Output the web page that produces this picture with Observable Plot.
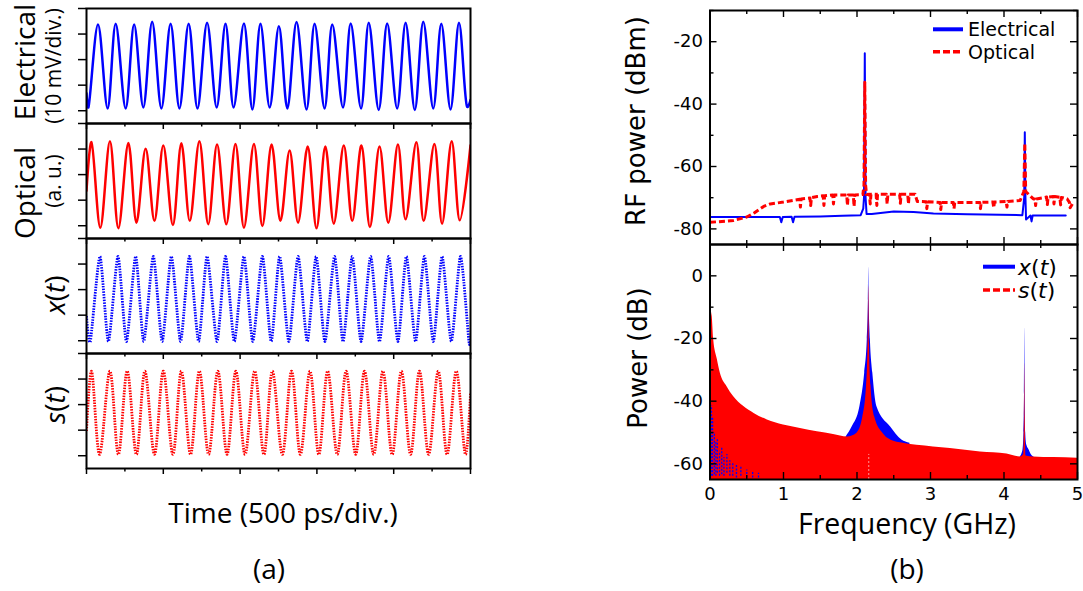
<!DOCTYPE html>
<html>
<head>
<meta charset="utf-8">
<script src="https://cdn.jsdelivr.net/npm/d3@7"></script>
<script src="https://cdn.jsdelivr.net/npm/@observablehq/plot@0.6"></script>
<style>
  body { margin: 0; background: #fff; }
  #fig { position: relative; width: 1083px; height: 591px; overflow: hidden; background: #fff; }
  #fig svg { position: absolute; left: 0; top: 0; overflow: visible; background: transparent; }
</style>
</head>
<body>
<div id="fig"></div>
<script>
// ================= DATA =================
// (a) time traces, time in divisions (500 ps/div), amplitude in divisions
const elecT = [0, 0.05, 0.30, 0.55, 0.76, 1.02, 1.24, 1.48, 1.71, 1.95, 2.19, 2.42, 2.66, 2.89, 3.14, 3.39, 3.62, 3.83, 4.10, 4.32, 4.53, 4.77, 5.01, 5.23, 5.47, 5.73, 5.94, 6.20, 6.40, 6.68, 6.88, 7.15, 7.35, 7.61, 7.83, 8.09, 8.31, 8.55, 8.77, 9.03, 9.24, 9.48, 9.70, 9.91, 10];
const elecV = [0.68, 0.13, 3.37, 0.09, 3.40, 0.09, 3.37, 0.13, 3.48, 0.09, 3.40, 0.09, 3.40, 0.09, 3.44, 0.13, 3.40, 0.13, 3.41, 0.05, 3.40, 0.13, 3.31, 0.09, 3.47, 0.05, 3.40, 0.09, 3.37, 0.13, 3.41, 0.09, 3.44, 0.03, 3.41, 0.09, 3.44, 0.03, 3.48, 0.09, 3.40, 0.05, 3.44, 0.16, 0.42];

const optT = [0, 0.13, 0.36, 0.61, 0.83, 1.09, 1.30, 1.54, 1.77, 2.00, 2.25, 2.47, 2.69, 2.94, 3.17, 3.40, 3.64, 3.88, 4.10, 4.36, 4.58, 4.82, 5.05, 5.29, 5.51, 5.76, 5.99, 6.22, 6.44, 6.70, 6.92, 7.16, 7.38, 7.63, 7.86, 8.11, 8.31, 8.59, 8.78, 9.06, 9.26, 9.51, 9.72, 10];
const optV = [1.37, 3.27, -0.08, 3.31, -0.10, 3.24, 0.12, 3.01, 0.19, 3.14, 0.03, 3.23, 0.19, 3.31, 0.06, 3.18, 0.06, 3.20, -0.08, 3.20, -0.01, 3.18, 0.19, 2.94, 0.12, 3.10, -0.10, 3.10, 0.08, 3.14, 0.19, 3.14, -0.05, 3.10, 0.12, 3.18, 0.25, 3.27, 0.19, 3.20, 0.08, 3.31, 0.21, 3.14];

const xtT = [0, 0.10, 0.35, 0.57, 0.82, 1.04, 1.28, 1.49, 1.74, 1.97, 2.21, 2.45, 2.68, 2.92, 3.14, 3.40, 3.62, 3.85, 4.10, 4.33, 4.58, 4.81, 5.03, 5.27, 5.51, 5.75, 5.98, 6.21, 6.46, 6.68, 6.92, 7.15, 7.40, 7.63, 7.87, 8.11, 8.33, 8.57, 8.80, 9.03, 9.26, 9.50, 9.74, 9.96, 10];
const xtV = [0.96, -0.03, 3.30, -0.03, 3.30, -0.03, 3.30, -0.03, 3.30, -0.03, 3.30, -0.03, 3.30, -0.03, 3.30, -0.03, 3.30, -0.03, 3.30, -0.03, 3.30, -0.03, 3.30, -0.03, 3.30, -0.03, 3.30, -0.03, 3.30, -0.03, 3.30, -0.03, 3.30, -0.03, 3.30, -0.03, 3.30, -0.03, 3.30, -0.03, 3.30, -0.03, 3.30, -0.03, 0.12];

const stT = [0, 0.13, 0.34, 0.61, 0.83, 1.06, 1.30, 1.52, 1.77, 2.00, 2.25, 2.47, 2.71, 2.94, 3.18, 3.42, 3.66, 3.89, 4.13, 4.38, 4.62, 4.84, 5.10, 5.34, 5.57, 5.82, 6.05, 6.28, 6.53, 6.76, 7.01, 7.24, 7.48, 7.72, 7.96, 8.20, 8.44, 8.67, 8.91, 9.16, 9.39, 9.63, 9.87, 10];
const stV = [0.97, 3.31, 0.05, 3.31, 0.05, 3.31, 0.05, 3.31, 0.05, 3.31, 0.05, 3.31, 0.05, 3.31, 0.05, 3.31, 0.05, 3.31, 0.05, 3.31, 0.05, 3.31, 0.05, 3.31, 0.05, 3.31, 0.05, 3.31, 0.05, 3.31, 0.05, 3.31, 0.05, 3.31, 0.05, 3.31, 0.05, 3.31, 0.05, 3.31, 0.05, 3.31, 0.05, 2.43];

const divTicksY = [0, 1, 2, 3, 4];
const divMajorX = [0, 2, 4, 6, 8, 10];
const divMinorX = [1, 3, 5, 7, 9];

// (b) top: measured RF spectra (GHz, dBm)
const rfElecF = [0, 0.95, 0.97, 0.99, 1.11, 1.13, 1.15, 1.5, 1.8, 2.05, 2.085, 2.095, 2.106, 2.117, 2.13, 2.2, 2.5, 2.77, 3.04, 3.5, 3.95, 4.25, 4.275, 4.283, 4.292, 4.30, 4.36, 4.375, 4.39, 4.6, 4.84];
const rfElecP = [-76.2, -76.2, -77.9, -76.2, -76.1, -77.9, -76.1, -76.0, -75.8, -75.6, -73.5, -70, -23.7, -70, -75.2, -75.2, -74.4, -74.6, -75.1, -75.3, -75.5, -75.6, -70, -49, -70, -77, -75.7, -77.6, -75.7, -75.7, -75.7];

const rfOptF = [0, 0.32, 0.5, 0.6, 0.73, 0.82, 1.0, 1.22, 1.23, 1.24, 1.36, 1.37, 1.38, 1.46, 1.54, 1.55, 1.56, 1.67, 1.68, 1.69, 1.86, 1.87, 1.88, 1.95, 1.96, 1.97, 2.08, 2.095, 2.106, 2.117, 2.13, 2.17, 2.18, 2.19, 2.26, 2.27, 2.28, 2.40, 2.41, 2.42, 2.58, 2.59, 2.60, 2.69, 2.70, 2.71, 2.79, 2.82, 2.94, 2.95, 2.96, 3.13, 3.14, 3.15, 3.31, 3.32, 3.33, 3.67, 3.68, 3.69, 3.85, 3.86, 3.87, 4.03, 4.04, 4.05, 4.22, 4.27, 4.283, 4.295, 4.4, 4.42, 4.43, 4.44, 4.58, 4.59, 4.60, 4.67, 4.68, 4.69, 4.76, 4.77, 4.78, 4.86, 4.89, 4.90, 4.93];
const rfOptP = [-77.9, -77.3, -76.2, -74.9, -72.8, -72.0, -71.4, -70.5, -73, -70.4, -70.1, -72.5, -70, -69.6, -69.4, -72.5, -69.4, -69.1, -72, -69.1, -69.1, -72.5, -69.1, -69.1, -72.8, -69.1, -69, -66, -33, -66, -69, -68.9, -72, -68.9, -68.9, -72.5, -68.9, -68.9, -72, -68.9, -68.9, -71.8, -68.9, -68.9, -72, -68.9, -68.9, -71.2, -71.3, -73.5, -71.3, -71.5, -73.8, -71.5, -71.5, -73.5, -71.5, -71.5, -73.5, -71.5, -71.4, -73.2, -71.4, -71.2, -73, -71.2, -70.9, -68, -52.5, -68, -70.4, -70.4, -72.5, -70.4, -69.8, -72.2, -69.8, -69.6, -72, -69.6, -69.9, -72.3, -69.9, -70.4, -71.5, -73.2, -72];

// (b) bottom: simulated spectra (GHz, dB) — upper envelopes of the dense traces
const sEnvF = [0, 0.03, 0.05, 0.1, 0.14, 0.23, 0.32, 0.46, 0.6, 0.78, 1.0, 1.23, 1.46, 1.68, 1.87, 2.0, 2.08, 2.13, 2.15, 2.16, 2.17, 2.19, 2.24, 2.36, 2.5, 2.59, 3.04, 3.27, 3.68, 4.04, 4.22, 4.27, 4.278, 4.283, 4.288, 4.3, 4.4, 4.68, 5];
const sEnvP = [-10, -13, -20.3, -26.7, -31, -35.3, -38.5, -41.7, -43.9, -46, -47.6, -48.7, -49.8, -50.6, -51.4, -50.2, -45, -35, -22, -3.2, -22, -35, -45, -50.5, -52.8, -53.3, -54.6, -55.1, -56.2, -56.9, -57.8, -57, -45, -27.8, -45, -57.5, -57.8, -58, -58.2];

const xEnvF = [1.85, 1.935, 2.04, 2.105, 2.14, 2.155, 2.16, 2.165, 2.182, 2.215, 2.27, 2.455, 2.61, 2.72, 3.5, 4.22, 4.255, 4.272, 4.279, 4.283, 4.287, 4.295, 4.31, 4.34, 4.37, 4.42];
const xEnvP = [-51.5, -48.2, -41.7, -31, -20.3, -8, 2.7, -8, -20.3, -31, -41.7, -48.2, -52.4, -53.4, NaN, -57.8, -56, -50, -38, -16.6, -38, -50, -54, -55.5, -57, -58];

// visible blue streaks of x(t) through the red band at low frequency
const xStreakF  = [0.02, 0.035, 0.06, 0.08, 0.1, 0.13, 0.16, 0.19, 0.23, 0.27, 0.31, 0.36, 0.42, 0.5, 0.58, 0.66];
const xStreakLo = [-64, -64, -63.5, -64, -63, -64, -63.5, -64, -63, -64, -64, -64.5, -64, -64.5, -64.5, -64.5];
const xStreakHi = [-41.5, -45, -50, -53, -52, -56, -55, -58, -57, -59, -60, -60.5, -61, -62, -62.5, -63];

const freqMajor = [0, 1, 2, 3, 4, 5];
const freqMinor = [0.5, 1.5, 2.5, 3.5, 4.5];
const rfMajor = [-80, -60, -40, -20];
const rfMinor = [-70, -50, -30, -10];
const pwMajor = [-60, -40, -20, 0];
const pwMinor = [-50, -30, -10];

// ================= DRAWING =================
const fig = document.getElementById("fig");
const BLUE = "#0000ff", RED = "#ff0000";

function timePanel(t, v, top, color, dash, curve) {
  const data = t.map((d, i) => ({t: d, v: v[i]}));
  const p = Plot.plot({
    width: 1083, height: top + 115,
    marginTop: top, marginBottom: 0, marginLeft: 86, marginRight: 1083 - 470,
    x: {domain: [0, 10], axis: null},
    y: {domain: [-0.5, 4], axis: null},
    marks: [
      Plot.line(data, {x: "t", y: "v", stroke: color, strokeWidth: dash ? 2.8 : 2.5,
        strokeDasharray: dash, strokeLinecap: dash ? "butt" : "round",
        curve: curve || "catmull-rom", tension: 0.35, clip: true}),
      Plot.axisY({ticks: divTicksY, tickSize: 8, tickFormat: () => "", label: null, strokeWidth: 1.5}),
      Plot.axisX({ticks: divMajorX, tickSize: 6, tickFormat: () => "", label: null, strokeWidth: 1.5}),
      Plot.axisX({ticks: divMinorX, tickSize: 3.5, tickFormat: () => "", label: null, strokeWidth: 1.5}),
      Plot.frame({strokeWidth: 2})
    ]
  });
  fig.append(p);
}

timePanel(elecT, elecV, 8, BLUE, null);
timePanel(optT, optV, 123, RED, null);
timePanel(xtT, xtV, 238, BLUE, "1.5,1.2", "cardinal");
timePanel(stT, stV, 353, RED, "1.5,1.2");

const RX0 = 709.5, RX1 = 1077;
const FW = RX1 - RX0;
function boxTicks(yMaj, yMin, H) {
  const L = 7, l = 4, sw = 1.4;
  return [
    Plot.tickY(yMaj, {y: d => d, insetRight: FW - L, strokeWidth: sw}),
    Plot.tickY(yMaj, {y: d => d, insetLeft: FW - L, strokeWidth: sw}),
    Plot.tickY(yMin, {y: d => d, insetRight: FW - l, strokeWidth: sw}),
    Plot.tickY(yMin, {y: d => d, insetLeft: FW - l, strokeWidth: sw}),
    Plot.tickX(freqMajor, {x: d => d, insetBottom: H - L, strokeWidth: sw}),
    Plot.tickX(freqMajor, {x: d => d, insetTop: H - L, strokeWidth: sw}),
    Plot.tickX(freqMinor, {x: d => d, insetBottom: H - l, strokeWidth: sw}),
    Plot.tickX(freqMinor, {x: d => d, insetTop: H - l, strokeWidth: sw})
  ];
}

// top right: RF spectra
{
  const top = 10, H = 234;
  const elec = rfElecF.map((f, i) => ({f, p: rfElecP[i]}));
  const opt = rfOptF.map((f, i) => ({f, p: rfOptP[i]}));
  const p = Plot.plot({
    width: 1083, height: top + H,
    marginTop: top, marginBottom: 0, marginLeft: RX0, marginRight: 1083 - RX1,
    style: {fontFamily: "'DejaVu Sans', sans-serif", fontSize: "18px"},
    x: {domain: [0, 5], axis: null},
    y: {domain: [-85, -10], axis: null},
    marks: [
      Plot.line(elec, {x: "f", y: "p", stroke: BLUE, strokeWidth: 2, clip: true}),
      Plot.line(opt, {x: "f", y: "p", stroke: RED, strokeWidth: 3, strokeDasharray: "6,3", strokeLinecap: "butt", clip: true}),
      ...boxTicks(rfMajor, rfMinor, H),
      Plot.axisY({ticks: rfMajor, tickSize: 0, tickPadding: 7, tickFormat: d => String(d), label: null, fontSize: 18}),
      Plot.frame({strokeWidth: 2})
    ]
  });
  fig.append(p);
}

// bottom right: simulated spectra
{
  const top = 244, H = 235;
  const sEnv = sEnvF.map((f, i) => ({f, p: sEnvP[i]}));
  const xEnv = xEnvF.map((f, i) => ({f, p: xEnvP[i]}));
  const streaks = xStreakF.map((f, i) => ({f, lo: xStreakLo[i], hi: xStreakHi[i]}));
  const p = Plot.plot({
    width: 1083, height: top + H,
    marginTop: top, marginBottom: 0, marginLeft: RX0, marginRight: 1083 - RX1,
    style: {fontFamily: "'DejaVu Sans', sans-serif", fontSize: "18px"},
    x: {domain: [0, 5], axis: null},
    y: {domain: [-65, 10], axis: null},
    marks: [
      Plot.areaY(xEnv, {x: "f", y1: -65, y2: "p", fill: BLUE, curve: "monotone-x", clip: true}),
      Plot.areaY(sEnv, {x: "f", y1: -65, y2: "p", fill: RED, curve: "monotone-x", clip: true}),
      Plot.ruleX(streaks, {x: "f", y1: "lo", y2: "hi", stroke: BLUE, strokeWidth: 1.3, strokeDasharray: "2,1.5", clip: true}),
      Plot.ruleX([2.16], {y1: -65, y2: -57, stroke: "white", strokeOpacity: 0.6, strokeWidth: 1, strokeDasharray: "2,2", clip: true}),
      ...boxTicks(pwMajor, pwMinor, H),
      Plot.axisY({ticks: pwMajor, tickSize: 0, tickPadding: 7, tickFormat: d => String(d), label: null, fontSize: 18}),
      Plot.axisX({ticks: freqMajor, tickSize: 0, tickPadding: 8, tickFormat: d => String(d), label: null, fontSize: 18}),
      Plot.frame({strokeWidth: 2})
    ]
  });
  fig.append(p);
}

// ================= TEXT & LEGENDS =================
const ov = d3.select(fig).append("svg").attr("width", 1083).attr("height", 591);
const OPEN = "'Open Sans', sans-serif", DEJA = "'DejaVu Sans', sans-serif";

function label(x, y, s, size, family, rotate) {
  return ov.append("text")
    .attr("transform", `translate(${x},${y})` + (rotate ? " rotate(-90)" : ""))
    .attr("text-anchor", "middle")
    .attr("font-family", family).attr("font-size", size).attr("fill", "#000")
    .text(s);
}
function mathLabel(x, y, letter, size, family, rotate, anchor) {
  const t = ov.append("text")
    .attr("transform", `translate(${x},${y})` + (rotate ? " rotate(-90)" : ""))
    .attr("text-anchor", anchor || "middle")
    .attr("font-family", family).attr("font-size", size).attr("fill", "#000");
  t.append("tspan").attr("font-style", "italic").text(letter);
  t.append("tspan").text("(");
  t.append("tspan").attr("font-style", "italic").text("t");
  t.append("tspan").text(")");
  return t;
}

label(35, 62, "Electrical", 28, OPEN, true);
label(61, 66, "(10 mV/div.)", 21, OPEN, true);
label(35, 193, "Optical", 28, OPEN, true);
label(61, 181, "(a. u.)", 21, OPEN, true);
mathLabel(65, 295, "x", 28, OPEN, true);
mathLabel(65, 405, "s", 28, OPEN, true);
label(283, 523, "Time (500 ps/div.)", 28, OPEN, false);
label(269, 579, "(a)", 28, OPEN, false);

label(645, 121, "RF power (dBm)", 26, DEJA, true);
label(647, 358, "Power (dB)", 26, DEJA, true);
label(907, 534, "Frequency (GHz)", 28.5, OPEN, false);
label(907, 579, "(b)", 28, OPEN, false);

// legend (top right)
ov.append("line").attr("x1", 933).attr("x2", 963).attr("y1", 29.3).attr("y2", 29.3).attr("stroke", BLUE).attr("stroke-width", 4);
ov.append("text").attr("x", 968).attr("y", 29.3).attr("dy", "0.36em").attr("font-family", DEJA).attr("font-size", 19).text("Electrical");
ov.append("line").attr("x1", 933).attr("x2", 963).attr("y1", 51.7).attr("y2", 51.7).attr("stroke", RED).attr("stroke-width", 3.5).attr("stroke-dasharray", "7,3");
ov.append("text").attr("x", 968).attr("y", 51.7).attr("dy", "0.36em").attr("font-family", DEJA).attr("font-size", 19).text("Optical");

// legend (bottom right)
ov.append("line").attr("x1", 983).attr("x2", 1015).attr("y1", 266.7).attr("y2", 266.7).attr("stroke", BLUE).attr("stroke-width", 4);
mathLabel(1018, 266.7, "x", 22, DEJA, false, "start").attr("dy", "0.36em");
ov.append("line").attr("x1", 983).attr("x2", 1015).attr("y1", 290).attr("y2", 290).attr("stroke", RED).attr("stroke-width", 3.5).attr("stroke-dasharray", "7,3");
mathLabel(1018, 290, "s", 22, DEJA, false, "start").attr("dy", "0.36em");
</script>
</body>
</html>
